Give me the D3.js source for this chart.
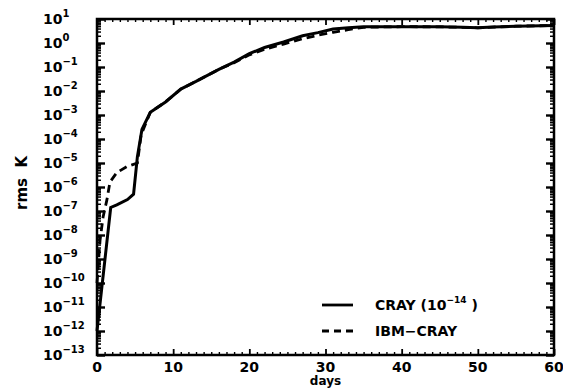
<!DOCTYPE html>
<html><head><meta charset="utf-8">
<script src="https://cdn.jsdelivr.net/npm/d3@7"></script>
<style>
body{margin:0;background:#fff;}
text{font-family:"DejaVu Sans",Verdana,sans-serif;font-weight:bold;fill:#000;}
</style></head>
<body><svg id="c" width="563" height="388"></svg>
<script>
const crayDays = [0, 1.8, 2.6, 4.0, 4.8, 5.3, 5.9, 7.0, 9, 11, 13, 16, 18, 20, 22, 24.5, 27, 29, 31, 33, 35, 40, 45, 48, 50, 52, 55, 60];
const crayVals = [1e-12, 1.4e-7, 1.8e-7, 3e-7, 5e-7, 1.8e-5, 2.5e-4, 1.3e-3, 3.5e-3, 1.2e-2, 2.5e-2, 8e-2, 1.6e-1, 3.6e-1, 6.5e-1, 1.1, 2.0, 2.7, 3.8, 4.3, 4.7, 4.8, 4.7, 4.5, 4.3, 4.6, 5.0, 5.4];
const ibmDays = [0, 0.4, 0.8, 1.3, 1.7, 2.6, 3.9, 5.3, 5.8, 7.0, 9, 11, 13, 16, 18, 20, 22, 24.5, 27, 29, 31, 33, 35, 40, 45, 48, 50, 52, 55, 60];
const ibmVals = [1e-10, 6e-9, 5.6e-8, 2.9e-7, 1.6e-6, 4e-6, 7e-6, 1e-5, 1.5e-4, 1.3e-3, 3.5e-3, 1.2e-2, 2.5e-2, 8e-2, 1.5e-1, 3.2e-1, 5.5e-1, 0.9, 1.5, 2.1, 2.8, 3.6, 4.5, 4.8, 4.7, 4.5, 4.3, 4.6, 5.0, 5.4];
const xTicks = [0, 10, 20, 30, 40, 50, 60];
const yExps = [1, 0, -1, -2, -3, -4, -5, -6, -7, -8, -9, -10, -11, -12, -13];
const legendLabels = ["CRAY (10", "IBM\u2212CRAY"];

const svg = d3.select("#c");
const L = 97, R = 554, T = 19, B = 355;
const x = d3.scaleLinear().domain([0, 60]).range([L, R]);
const y = d3.scaleLog().domain([1e-13, 10]).range([B, T]);

const majorY = yExps.map(e => Math.pow(10, e));
const minorY = [];
for (let e = -13; e < 1; e++) for (let m = 2; m <= 9; m++) minorY.push(m * Math.pow(10, e));
const minorX = d3.range(0, 61, 1).filter(d => d % 10 !== 0);

function style(g, w) { g.select(".domain").remove(); g.selectAll("line").attr("stroke", "#000").attr("stroke-width", w); }

svg.append("g").attr("transform", `translate(${L},0)`).call(d3.axisLeft(y).tickValues(majorY).tickSize(-8).tickFormat("")).call(g => style(g, 2.4));
svg.append("g").attr("transform", `translate(${L},0)`).call(d3.axisLeft(y).tickValues(minorY).tickSize(-4).tickFormat("")).call(g => style(g, 1.5));
svg.append("g").attr("transform", `translate(${R},0)`).call(d3.axisRight(y).tickValues(majorY).tickSize(-8).tickFormat("")).call(g => style(g, 2.4));
svg.append("g").attr("transform", `translate(${R},0)`).call(d3.axisRight(y).tickValues(minorY).tickSize(-4).tickFormat("")).call(g => style(g, 1.5));
svg.append("g").attr("transform", `translate(0,${B})`).call(d3.axisBottom(x).tickValues(xTicks).tickSize(-6).tickFormat("")).call(g => style(g, 1.8));
svg.append("g").attr("transform", `translate(0,${B})`).call(d3.axisBottom(x).tickValues(minorX).tickSize(-3).tickFormat("")).call(g => style(g, 1.4));
svg.append("g").attr("transform", `translate(0,${T})`).call(d3.axisTop(x).tickValues(xTicks).tickSize(-6).tickFormat("")).call(g => style(g, 1.8));
svg.append("g").attr("transform", `translate(0,${T})`).call(d3.axisTop(x).tickValues(minorX).tickSize(-3).tickFormat("")).call(g => style(g, 1.4));

svg.append("rect").attr("x", L).attr("y", T).attr("width", R - L).attr("height", B - T)
  .attr("fill", "none").attr("stroke", "#000").attr("stroke-width", 2.5);

yExps.forEach(e => {
  const t = svg.append("text").attr("x", 43).attr("y", y(Math.pow(10, e)) + 5).attr("font-size", 14);
  t.append("tspan").text("10");
  t.append("tspan").attr("dy", -7).attr("font-size", 10).text(e < 0 ? "\u2212" + (-e) : String(e));
});
xTicks.forEach(v => {
  svg.append("text").attr("x", x(v)).attr("y", 372).attr("text-anchor", "middle").attr("font-size", 14).text(v);
});
svg.append("text").attr("x", x(30)).attr("y", 385).attr("text-anchor", "middle").attr("font-size", 12).text("days");
svg.append("text").attr("transform", "translate(27,183) rotate(-90)").attr("text-anchor", "middle").attr("font-size", 15)
  .attr("xml:space", "preserve").text("rms  K");

const line = d3.line().x(d => x(d[0])).y(d => y(d[1]));
const crayData = crayDays.map((d, i) => [d, crayVals[i]]);
const ibmData = ibmDays.map((d, i) => [d, ibmVals[i]]);
svg.append("path").datum(ibmData).attr("d", line).attr("fill", "none").attr("stroke", "#000")
  .attr("stroke-width", 2.8).attr("stroke-dasharray", "8,5");
svg.append("path").datum(crayData).attr("d", line).attr("fill", "none").attr("stroke", "#000")
  .attr("stroke-width", 3);

svg.append("line").attr("x1", 322).attr("x2", 353).attr("y1", 305).attr("y2", 305).attr("stroke", "#000").attr("stroke-width", 2.8);
svg.append("line").attr("x1", 322).attr("x2", 353).attr("y1", 331).attr("y2", 331).attr("stroke", "#000").attr("stroke-width", 2.8).attr("stroke-dasharray", "7,5");
const l1 = svg.append("text").attr("x", 375).attr("y", 310).attr("font-size", 14).attr("xml:space", "preserve");
l1.append("tspan").text(legendLabels[0]);
l1.append("tspan").attr("dy", -7).attr("font-size", 9).text("\u221214");
l1.append("tspan").attr("dy", 7).text(" )");
svg.append("text").attr("x", 375).attr("y", 336).attr("font-size", 14).text(legendLabels[1]);
</script></body></html>
